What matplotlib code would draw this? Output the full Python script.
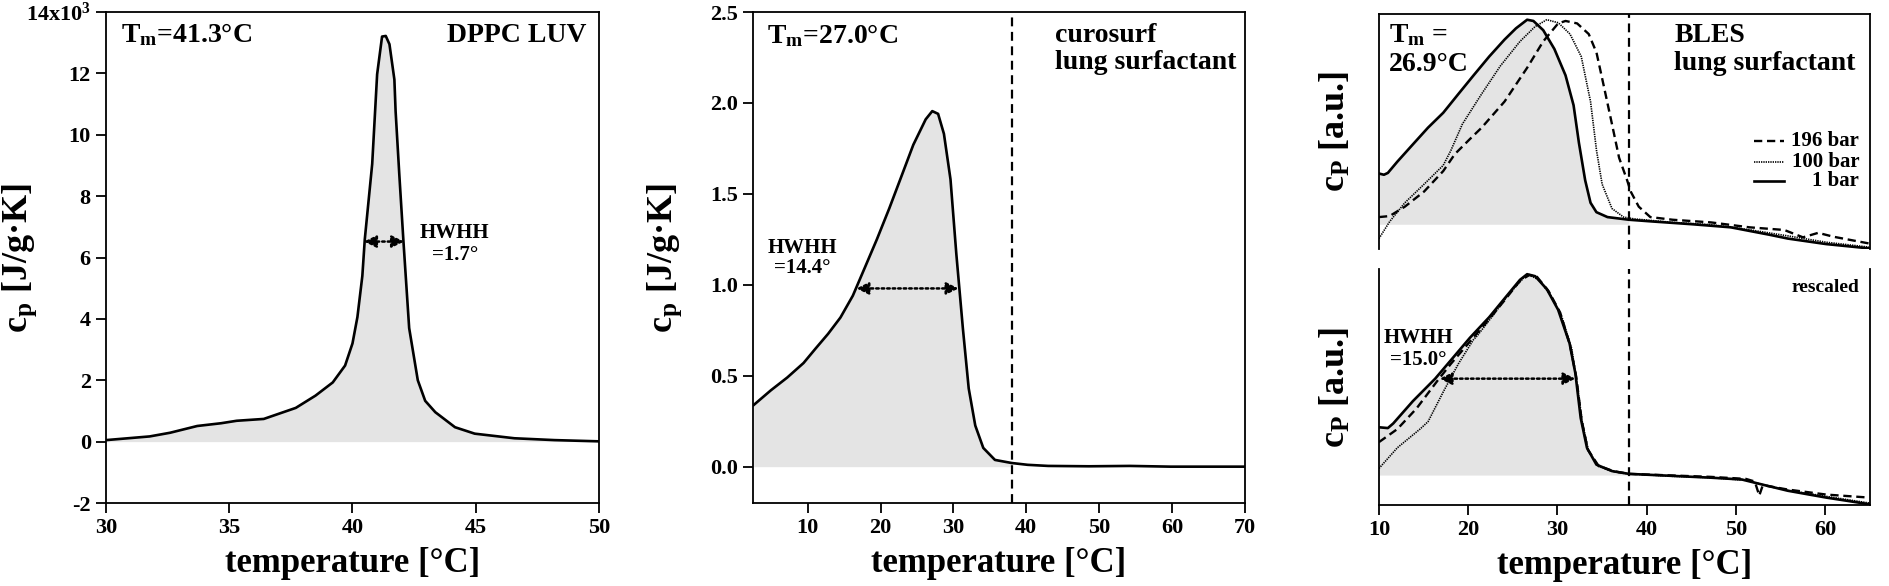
import matplotlib
matplotlib.use("Agg")
import matplotlib.pyplot as plt
from matplotlib.ticker import FuncFormatter, FixedLocator
from matplotlib.lines import Line2D

plt.rcParams['font.family'] = ['Liberation Serif', 'DejaVu Serif']
plt.rcParams['font.weight'] = 'bold'
plt.rcParams['mathtext.fontset'] = 'custom'
plt.rcParams['mathtext.rm'] = 'Liberation Serif:bold'
plt.rcParams['mathtext.it'] = 'Liberation Serif:bold:italic'
plt.rcParams['mathtext.bf'] = 'Liberation Serif:bold'

# ---------------- data ----------------
# Panel 1: DPPC LUV (cp in J/g·K)
dppc_T = [30.0, 31.77, 32.6, 33.7, 34.67, 35.3, 36.4, 37.7, 38.5, 39.2, 39.7, 40.0, 40.2,
          40.4, 40.5, 40.8, 41.0, 41.2, 41.35, 41.5, 41.7, 41.75, 41.9, 42.07, 42.3, 42.65,
          42.95, 43.36, 44.16, 44.96, 46.57, 48.2, 50.0]
dppc_cp = [50, 170, 290, 510, 600, 680, 740, 1100, 1500, 1930, 2480, 3200, 4060,
           5400, 6600, 9050, 11970, 13200, 13220, 12950, 11800, 10760, 8700, 6500, 3700, 2000,
           1330, 960, 470, 260, 110, 50, 10]

# Panel 2: curosurf
curo_T = [2.6, 4.96, 7.2, 9.44, 11.1, 12.8, 14.5, 16.2, 17.8, 19.5, 21.2, 22.9, 24.5, 26.2,
          27.1, 27.9, 28.7, 29.6, 30.4, 31.3, 32.1, 33.0, 34.1, 35.7, 38.0, 40.2, 43.0, 48.6,
          54.2, 59.8, 65.4, 70.0]
curo_cp = [0.339, 0.42, 0.49, 0.57, 0.65, 0.73, 0.82, 0.94, 1.09, 1.25, 1.42, 1.60, 1.77, 1.91,
           1.955, 1.94, 1.83, 1.58, 1.17, 0.76, 0.43, 0.226, 0.103, 0.037, 0.02, 0.01, 0.004, 0.002,
           0.004, 0.0, 0.0, 0.0]

# Panel 3 top: BLES at three pressures (a.u.)
bles1_T = [10.0, 10.56, 11.0, 12.06, 13.77, 15.49, 17.2, 18.9, 20.6, 22.35, 24.07, 25.35, 26.6,
           27.3, 28.4, 29.65, 30.9, 31.8, 32.4, 33.1, 33.7, 34.36, 35.6, 38.0, 40.8, 45.1, 49.4,
           53.7, 55.8, 60.1, 64.9]
bles1_cp = [0.248, 0.242, 0.251, 0.306, 0.389, 0.472, 0.545, 0.637, 0.728, 0.82, 0.903, 0.958, 1.0,
            0.994, 0.949, 0.857, 0.728, 0.582, 0.398, 0.215, 0.105, 0.059, 0.035, 0.022, 0.013, 0.0, -0.015,
            -0.051, -0.07, -0.097, -0.118]
bles100_T = [10.0, 11.2, 12.9, 15.06, 17.2, 18.06, 19.35, 21.5, 23.6, 25.8, 27.5, 28.8, 30.1, 31.4,
             32.66, 33.7, 34.37, 35.0, 36.1, 37.4, 38.6, 42.9, 47.2, 51.5, 55.8, 60.1, 64.9]
bles100_cp = [-0.07, 0.013, 0.105, 0.196, 0.288, 0.361, 0.49, 0.637, 0.774, 0.894, 0.967, 1.0, 0.985, 0.93,
              0.82, 0.6, 0.361, 0.196, 0.077, 0.035, 0.026, 0.009, -0.002, -0.027, -0.057, -0.088, -0.112]
bles196_T = [10.0, 11.2, 12.9, 15.06, 17.2, 18.5, 20.2, 21.5, 24.07, 26.6, 28.4, 30.07, 30.9, 32.2,
             33.5, 34.37, 35.2, 36.1, 36.9, 37.8, 38.2, 39.1, 40.4, 42.9, 47.2, 51.5, 55.4, 57.5,
             59.2, 60.9, 64.9]
bles196_cp = [0.035, 0.04, 0.086, 0.16, 0.26, 0.343, 0.417, 0.472, 0.6, 0.765, 0.894, 0.982, 0.994, 0.982,
              0.93, 0.839, 0.673, 0.49, 0.325, 0.215, 0.16, 0.086, 0.035, 0.022, 0.009, -0.015, -0.028, -0.064,
              -0.042, -0.061, -0.094]

# Panel 3 bottom: rescaled
res1_T = [10.0, 11.0, 11.6, 13.8, 16.3, 18.06, 20.2, 22.35, 24.07, 25.8, 26.6, 27.5, 28.8, 30.07,
          31.35, 32.0, 32.6, 33.3, 34.36, 36.1, 38.0, 42.9, 47.2, 50.65, 53.2, 55.8, 60.1, 64.9]
res1_cp = [0.238, 0.234, 0.257, 0.368, 0.48, 0.572, 0.684, 0.786, 0.879, 0.972, 1.0, 0.99, 0.926, 0.823,
           0.656, 0.507, 0.284, 0.136, 0.052, 0.02, 0.006, -0.004, -0.013, -0.022, -0.05, -0.078, -0.112, -0.145]
res196_T = [10.0, 12.06, 14.2, 16.56, 18.06, 20.2, 22.35, 24.07, 25.8, 26.85, 27.7, 29.0, 30.3, 31.4,
            32.1, 32.7, 33.4, 34.6, 36.3, 38.0, 42.9, 47.2, 51.1, 52.1, 52.6, 53.0, 55.8, 60.1, 64.9]
res196_cp = [0.164, 0.229, 0.331, 0.47, 0.554, 0.665, 0.777, 0.87, 0.968, 0.996, 0.987, 0.916, 0.809, 0.647,
             0.489, 0.275, 0.126, 0.046, 0.019, 0.006, -0.002, -0.009, -0.019, -0.032, -0.102, -0.05, -0.072,
             -0.097, -0.112]
res100_T = [10.0, 12.06, 14.6, 15.5, 17.2, 18.9, 20.6, 21.0, 22.8, 24.5, 26.2, 26.85, 27.9, 29.2, 30.5,
            31.6, 32.2, 32.8, 33.5, 34.6, 36.3, 38.0, 42.9, 47.2, 51.1, 53.2, 55.8, 60.1, 64.9]
res100_cp = [0.033, 0.136, 0.229, 0.266, 0.414, 0.554, 0.675, 0.693, 0.796, 0.898, 0.981, 0.996, 0.972, 0.898,
             0.786, 0.628, 0.452, 0.257, 0.117, 0.043, 0.017, 0.006, -0.006, -0.013, -0.026, -0.05, -0.076,
             -0.106, -0.139]

T_cut = 38.0
# ---------------------------------------

FILL = '#e4e4e4'
LW = 1.9
TICK_FS = 16
XLABEL_FS = 25
YLABEL_FS = 26
ANN_FS = 20
HW_FS = 15

fig = plt.figure(figsize=(18.9, 5.86), dpi=100)

def style_axis(ax, left=True, bottom=True):
    for s in ax.spines.values():
        s.set_linewidth(1.3)
    ax.tick_params(axis='both', which='major', direction='out', length=7, width=1.3,
                   labelsize=TICK_FS, top=False, right=False, left=left, bottom=bottom,
                   labelleft=left, labelbottom=bottom, pad=4)
    for lab in ax.get_xticklabels() + ax.get_yticklabels():
        lab.set_fontweight('bold')

def hwhh(ax, x0, x1, y):
    ax.annotate('', xy=(x0, y), xytext=(x1, y),
                arrowprops=dict(arrowstyle='<|-|>', color='black', lw=1.8, ls=(0, (1, 1.2)),
                                mutation_scale=18, shrinkA=0, shrinkB=0))

# ---------- Panel 1 ----------
ax1 = fig.add_axes([0.0561, 0.1416, 0.2608, 0.8379])
ax1.fill_between(dppc_T, dppc_cp, 0, color=FILL, lw=0)
ax1.plot(dppc_T, dppc_cp, color='black', lw=LW)
ax1.set_xlim(30, 50)
ax1.set_ylim(-2000, 14000)
ax1.xaxis.set_major_locator(FixedLocator([30, 35, 40, 45, 50]))
ax1.yaxis.set_major_locator(FixedLocator(list(range(-2000, 14001, 2000))))
ax1.yaxis.set_major_formatter(FuncFormatter(
    lambda v, p: r'14x10$^{3}$' if abs(v - 14000) < 1 else '%d' % round(v / 1000)))
style_axis(ax1)
ax1.set_xlabel('temperature [°C]', fontsize=XLABEL_FS, fontweight='bold', labelpad=6)
ax1.set_ylabel(r'$\mathrm{c_p}$ [J/g·K]', fontsize=YLABEL_FS, fontweight='bold')
ax1.yaxis.set_label_coords(-0.135, 0.5)
ax1.text(30.6, 13250, r'T$_\mathrm{m}$=41.3°C', fontsize=ANN_FS, fontweight='bold', va='center', ha='left')
ax1.text(49.5, 13250, 'DPPC LUV', fontsize=ANN_FS, fontweight='bold', va='center', ha='right')
hwhh(ax1, 40.47, 42.09, 6520)
ax1.text(44.15, 6800, 'HWHH', fontsize=HW_FS, fontweight='bold', ha='center', va='center')
ax1.text(44.15, 6080, '=1.7°', fontsize=HW_FS, fontweight='bold', ha='center', va='center')

# ---------- Panel 2 ----------
ax2 = fig.add_axes([0.3984, 0.1416, 0.2603, 0.8379])
ct = [t for t in curo_T if t <= T_cut]
cc = curo_cp[:len(ct)]
ax2.fill_between(ct, cc, 0, color=FILL, lw=0)
ax2.plot(curo_T, curo_cp, color='black', lw=LW)
ax2.axvline(T_cut, color='black', lw=1.6, ls=(0, (4, 2.5)))
ax2.set_xlim(2.5, 70)
ax2.set_ylim(-0.2, 2.5)
ax2.xaxis.set_major_locator(FixedLocator([10, 20, 30, 40, 50, 60, 70]))
ax2.yaxis.set_major_locator(FixedLocator([0, 0.5, 1.0, 1.5, 2.0, 2.5]))
ax2.yaxis.set_major_formatter(FuncFormatter(lambda v, p: '%.1f' % v))
style_axis(ax2)
ax2.set_xlabel('temperature [°C]', fontsize=XLABEL_FS, fontweight='bold', labelpad=6)
ax2.set_ylabel(r'$\mathrm{c_p}$ [J/g·K]', fontsize=YLABEL_FS, fontweight='bold')
ax2.yaxis.set_label_coords(-0.14, 0.5)
ax2.text(4.4, 2.37, r'T$_\mathrm{m}$=27.0°C', fontsize=ANN_FS, fontweight='bold', va='center', ha='left')
ax2.text(43.9, 2.37, 'curosurf', fontsize=ANN_FS, fontweight='bold', va='center', ha='left')
ax2.text(43.9, 2.225, 'lung surfactant', fontsize=ANN_FS, fontweight='bold', va='center', ha='left')
hwhh(ax2, 16.7, 30.7, 0.98)
ax2.text(9.3, 1.2, 'HWHH', fontsize=HW_FS, fontweight='bold', ha='center', va='center')
ax2.text(9.3, 1.09, '=14.4°', fontsize=HW_FS, fontweight='bold', ha='center', va='center')

# ---------- Panel 3 top ----------
ax3 = fig.add_axes([0.7296, 0.5751, 0.2598, 0.4010])
bt = [t for t in bles1_T if t <= T_cut]
ax3.fill_between(bt, bles1_cp[:len(bt)], 0, color=FILL, lw=0)
ax3.plot(bles196_T, bles196_cp, color='black', lw=1.7, ls=(0, (3.5, 2)))
ax3.plot(bles100_T, bles100_cp, color='black', lw=1.2, ls=(0, (0.8, 0.6)))
ax3.plot(bles1_T, bles1_cp, color='black', lw=LW)
ax3.axvline(T_cut, color='black', lw=1.6, ls=(0, (4, 2.5)))
ax3.set_xlim(10, 65)
ax3.set_ylim(-0.121, 1.028)
ax3.set_yticks([])
ax3.set_xticks([])
ax3.spines['bottom'].set_visible(False)
for s in ax3.spines.values():
    s.set_linewidth(1.3)
ax3.set_ylabel(r'$\mathrm{c_P}$ [a.u.]', fontsize=YLABEL_FS, fontweight='bold')
ax3.yaxis.set_label_coords(-0.053, 0.5)
ax3.text(11.1, 0.91, r'T$_\mathrm{m}$ =', fontsize=ANN_FS, fontweight='bold', va='center', ha='left',
         transform=ax3.get_xaxis_transform())
ax3.text(11.1, 0.783, '26.9°C', fontsize=ANN_FS, fontweight='bold', va='center', ha='left',
         transform=ax3.get_xaxis_transform())
ax3.text(43.1, 0.91, 'BLES', fontsize=ANN_FS, fontweight='bold', va='center', ha='left',
         transform=ax3.get_xaxis_transform())
ax3.text(43.1, 0.79, 'lung surfactant', fontsize=ANN_FS, fontweight='bold', va='center', ha='left',
         transform=ax3.get_xaxis_transform())
leg_labels = ['196 bar', '100 bar', '1 bar']
leg_styles = [((0, (3.5, 2)), 1.7), ((0, (0.8, 0.6)), 1.2), ('-', LW)]
leg_y = [0.46, 0.37, 0.289]
for lab, (ls, lw), yy in zip(leg_labels, leg_styles, leg_y):
    ax3.add_line(Line2D([0.764, 0.825], [yy, yy], transform=ax3.transAxes, color='black', ls=ls, lw=lw))
    ax3.text(0.978, yy, lab, transform=ax3.transAxes, fontsize=HW_FS, fontweight='bold',
             ha='right', va='center')

# ---------- Panel 3 bottom ----------
ax4 = fig.add_axes([0.7296, 0.1382, 0.2598, 0.4028])
rt = [t for t in res1_T if t <= T_cut]
ax4.fill_between(rt, res1_cp[:len(rt)], 0, color=FILL, lw=0)
ax4.plot(res196_T, res196_cp, color='black', lw=1.7, ls=(0, (3.5, 2)))
ax4.plot(res100_T, res100_cp, color='black', lw=1.2, ls=(0, (0.8, 0.6)))
ax4.plot(res1_T, res1_cp, color='black', lw=LW)
ax4.axvline(T_cut, color='black', lw=1.6, ls=(0, (4, 2.5)))
ax4.set_xlim(10, 65)
ax4.set_ylim(-0.149, 1.026)
ax4.spines['top'].set_visible(False)
ax4.xaxis.set_major_locator(FixedLocator([10, 20, 30, 40, 50, 60]))
ax4.set_yticks([])
style_axis(ax4, left=False, bottom=True)
ax4.set_xlabel('temperature [°C]', fontsize=XLABEL_FS, fontweight='bold', labelpad=6)
ax4.set_ylabel(r'$\mathrm{c_P}$ [a.u.]', fontsize=YLABEL_FS, fontweight='bold')
ax4.yaxis.set_label_coords(-0.053, 0.5)
ax4.text(0.978, 0.92, 'rescaled', transform=ax4.transAxes, fontsize=14, fontweight='bold',
         ha='right', va='center')
hwhh(ax4, 16.8, 32.0, 0.48)
ax4.text(14.4, 0.684, 'HWHH', fontsize=HW_FS, fontweight='bold', ha='center', va='center')
ax4.text(14.4, 0.572, '=15.0°', fontsize=HW_FS, fontweight='bold', ha='center', va='center')

fig.savefig('out.png', dpi=100)
